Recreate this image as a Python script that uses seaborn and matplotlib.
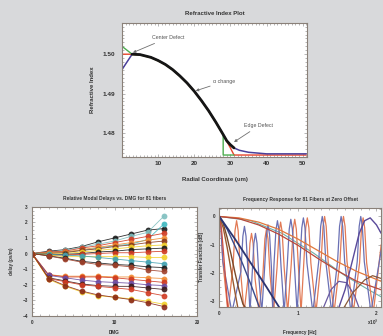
import matplotlib
matplotlib.use("Agg")
import matplotlib.pyplot as plt
import seaborn as sns
import pandas as pd
from matplotlib.ticker import MultipleLocator, FormatStrFormatter

sns.set_theme(style="ticks")
plt.rcParams['font.family'] = ['Liberation Sans', 'DejaVu Sans']

# ---- top: refractive index profile ----
r_main = [2.8, 5, 8, 10, 12, 14, 16, 18, 20, 22, 24, 26, 28]
n_main = [1.5000, 1.4999, 1.4992, 1.4984, 1.4974, 1.4961, 1.4945, 1.4927,
          1.4906, 1.4882, 1.4856, 1.4827, 1.4796]

# center region of each defect variant
r_center = [0]
n_red_center = [1.5000]
n_green_center = [1.5020]
n_blue_center = [1.4961]

# edge region of each defect variant
r_red_edge = [29, 30, 31, 51]
n_red_edge = [1.4779, 1.4762, 1.4744, 1.4744]
r_green_edge = [28, 31]
n_green_edge = [1.4744, 1.4744]
r_tail = [29, 30, 31, 32.5, 35, 37.5, 40, 45, 51]
n_tail = [1.4780, 1.4770, 1.4762, 1.4756, 1.4751, 1.4749, 1.4747, 1.4747, 1.4747]

# ---- bottom left: relative modal delays ----
dmg = [0, 2, 4, 6, 8, 10, 12, 14, 16]
fiber_delays = [
    [0, 0.15, 0.25, 0.45, 0.75, 1.0, 1.25, 1.5, 1.6],
    [0, 0.1, 0.2, 0.4, 0.6, 0.8, 1.1, 1.35, 2.4],
    [0, 0.05, 0.1, 0.2, 0.35, 0.5, 0.6, 0.9, 1.9],
    [0, 0.1, 0.15, 0.35, 0.5, 0.7, 0.9, 1.1, 1.3],
    [0, 0.05, 0.1, 0.25, 0.4, 0.55, 0.7, 0.85, 1.0],
    [0, 0.0, 0.05, 0.2, 0.3, 0.45, 0.55, 0.7, 0.8],
    [0, -0.05, 0.0, 0.1, 0.2, 0.3, 0.4, 0.5, 0.55],
    [0, -0.1, -0.05, 0.0, 0.1, 0.15, 0.25, 0.3, 0.35],
    [0, -0.1, -0.1, -0.05, 0.0, 0.05, 0.05, 0.1, 0.15],
    [0, -0.1, -0.2, -0.2, -0.2, -0.2, -0.2, -0.25, -0.25],
    [0, -0.05, -0.1, -0.15, -0.25, -0.35, -0.45, -0.55, -0.65],
    [0, -0.15, -0.3, -0.5, -0.6, -0.7, -0.75, -0.85, -0.9],
    [0, -0.15, -0.35, -0.55, -0.7, -0.75, -0.85, -1.05, -1.15],
    [0, -1.35, -1.45, -1.45, -1.45, -1.5, -1.5, -1.55, -1.6],
    [0, -1.35, -1.5, -1.5, -1.5, -1.55, -1.65, -1.75, -1.85],
    [0, -1.4, -1.55, -1.7, -1.8, -1.85, -1.9, -2.0, -2.05],
    [0, -1.55, -1.75, -1.95, -2.05, -2.1, -2.1, -2.2, -2.3],
    [0, -1.6, -1.8, -2.0, -2.1, -2.2, -2.3, -2.5, -2.7],
    [0, -1.65, -2.1, -2.45, -2.7, -2.8, -2.9, -3.05, -3.25],
    [0, -1.6, -2.05, -2.4, -2.65, -2.8, -2.95, -3.15, -3.4],
]
fiber_colors = ['#1a1a1a', '#7fbfbf', '#3fb8c0', '#d03a22', '#f08a30', '#8b3a1a',
                '#f2d02a', '#1a1a1a', '#d03a22', '#f2d02a', '#3fa0b0', '#1a1a1a',
                '#a0402a', '#f08a30', '#d03a22', '#6a4aa0', '#3a1a1a', '#d03a22',
                '#f2d02a', '#8b2a1a']

# ---- bottom right: frequency response ----
osc_orange = [(0, 0), (0.02, -0.35), (0.045, -1.6), (0.11, -3.4), (0.175, -1.75), (0.2, -0.5),
              (0.22, -0.15), (0.24, -0.5), (0.265, -1.75), (0.315, -3.4), (0.365, -2.2), (0.39, -0.95),
              (0.41, -0.6), (0.43, -0.95), (0.455, -2.2), (0.505, -3.4), (0.555, -2.05), (0.58, -0.8),
              (0.6, -0.45), (0.62, -0.8), (0.645, -2.05), (0.69, -3.4), (0.735, -1.8), (0.76, -0.55),
              (0.78, -0.2), (0.8, -0.55), (0.825, -1.8), (0.87, -3.4), (0.915, -1.7), (0.94, -0.45),
              (0.96, -0.1), (0.98, -0.45), (1.005, -1.7), (1.04, -3.4), (1.075, -1.65), (1.1, -0.4),
              (1.12, -0.05), (1.14, -0.4), (1.165, -1.65), (1.23, -3.4), (1.295, -1.6), (1.32, -0.35),
              (1.34, 0), (1.36, -0.35), (1.385, -1.6), (1.46, -3.4), (1.535, -1.6), (1.56, -0.35),
              (1.58, 0), (1.6, -0.35), (1.625, -1.6), (1.705, -3.4), (1.785, -1.65), (1.81, -0.4),
              (1.83, -0.05), (1.85, -0.4), (1.875, -1.65), (1.96, -3.4), (2.06, -1.0)]
osc_blue = [(0, 0), (0.02, -0.35), (0.045, -1.6), (0.16, -3.4), (0.275, -1.95), (0.3, -0.7),
            (0.32, -0.35), (0.34, -0.7), (0.365, -1.95), (0.39, -3.4), (0.415, -2.2), (0.44, -0.95),
            (0.46, -0.6), (0.48, -0.95), (0.505, -2.2), (0.54, -3.4), (0.575, -1.9), (0.6, -0.65),
            (0.62, -0.3), (0.64, -0.65), (0.665, -1.9), (0.68, -3.4), (0.695, -1.75), (0.72, -0.5),
            (0.74, -0.15), (0.76, -0.5), (0.785, -1.75), (0.825, -3.4), (0.865, -1.7), (0.89, -0.45),
            (0.91, -0.1), (0.93, -0.45), (0.955, -1.7), (0.99, -3.4), (1.025, -1.65), (1.05, -0.4),
            (1.07, -0.05), (1.09, -0.4), (1.115, -1.65), (1.19, -3.4), (1.265, -1.6), (1.29, -0.35),
            (1.31, 0), (1.33, -0.35), (1.355, -1.6), (1.43, -3.4), (1.505, -1.6), (1.53, -0.35),
            (1.55, 0), (1.57, -0.35), (1.595, -1.6), (1.675, -3.4), (1.755, -1.6), (1.78, -0.35),
            (1.8, 0), (1.82, -0.35), (1.845, -1.6), (1.93, -3.4), (2.06, -1.2)]
slow_orange = [(0, 0), (0.25, -0.05), (0.5, -0.2), (0.75, -0.45), (1.0, -0.8), (1.25, -1.2),
               (1.5, -1.6), (1.75, -1.95), (2.06, -2.3)]
slow_red = [(0, 0), (0.25, -0.08), (0.5, -0.3), (0.75, -0.62), (1.0, -1.02), (1.25, -1.48),
            (1.5, -1.92), (1.75, -2.3), (2.06, -2.6)]
slow_teal = [(0, 0), (0.4, -0.15), (0.8, -0.6), (1.2, -1.3), (1.6, -2.1), (1.9, -2.6), (2.06, -2.85)]
steep_navy = [(0, 0), (0.2, -0.8), (0.4, -1.65), (0.6, -2.5), (0.78, -3.3)]
steep_navy2 = [(0, 0), (0.1, -0.45), (0.2, -1.05), (0.3, -1.7), (0.4, -2.4), (0.52, -3.3)]
steep_brown = [(0, 0), (0.05, -0.25), (0.1, -0.75), (0.15, -1.35), (0.2, -2.0), (0.25, -2.6),
               (0.3, -3.1), (0.35, -3.3)]
steep_brown2 = [(0, 0), (0.05, -0.4), (0.1, -1.1), (0.15, -1.9), (0.2, -2.7), (0.24, -3.3)]
steep_red = [(0, 0), (0.03, -0.5), (0.06, -1.5), (0.09, -2.6), (0.11, -3.3)]
arc_purple = [(1.5, -3.4), (1.6, -2.6), (1.7, -1.5), (1.78, -0.6), (1.85, -0.15), (1.92, -0.05),
              (2.0, -0.3), (2.06, -0.6)]
arc_brown = [(1.55, -3.4), (1.7, -2.7), (1.85, -2.25), (1.95, -2.1), (2.06, -2.2)]
hump_purple = [(1.3, -3.4), (1.42, -2.6), (1.52, -2.3), (1.62, -2.35), (1.72, -2.8), (1.8, -3.4)]

response_curves = [
    (slow_teal, '#6fb0a8', 0.8), (osc_orange, '#e27a55', 0.9), (osc_blue, '#6a70b4', 0.9),
    (slow_orange, '#e0783c', 0.9), (slow_red, '#b8483a', 0.9), (steep_red, '#d05040', 0.9),
    (steep_brown, '#7a4a2a', 1.0), (steep_brown2, '#9a5a30', 1.0), (steep_navy2, '#3a4a8a', 1.0),
    (steep_navy, '#2c3470', 1.3), (hump_purple, '#6a5aa0', 0.9), (arc_brown, '#8a5a3a', 0.9),
    (arc_purple, '#5a4a9a', 1.0),
]

bg = '#d8d9db'
spine_col = '#8a8078'
fig = plt.figure(figsize=(3.83, 3.36), dpi=100, facecolor=bg)


def style_axes(ax, fs, bold=True):
    ax.set_facecolor('white')
    for s in ax.spines.values():
        s.set_color(spine_col)
        s.set_linewidth(0.8)
    ax.tick_params(which='both', direction='in', top=True, right=True, color='#999999',
                   labelsize=fs, pad=3, width=0.5)
    ax.tick_params(which='major', length=2.5)
    ax.tick_params(which='minor', length=1.2)
    for lab in ax.get_xticklabels() + ax.get_yticklabels():
        lab.set_fontweight('bold' if bold else 'normal')
        lab.set_color('#333333')


def draw(ax, xs, ys, color, lw):
    sns.lineplot(x=xs, y=ys, ax=ax, color=color, lw=lw, estimator=None, sort=False, legend=False)


# top panel
ax1 = fig.add_axes([122 / 383, 1 - 157 / 336, 185 / 383, 134.3 / 336])
draw(ax1, r_center + r_main + r_red_edge, n_red_center + n_main + n_red_edge, '#e8452c', 1.0)
draw(ax1, r_center + r_main + r_green_edge, n_green_center + n_main + n_green_edge, '#4cae4f', 1.0)
draw(ax1, r_main, [v - 0.0001 for v in n_main], '#e8d040', 1.0)
draw(ax1, r_center + r_main + r_tail, n_blue_center + n_main + n_tail, '#4a3f9a', 1.1)
draw(ax1, r_main + r_tail[:3], n_main + n_tail[:3], '#151515', 2.0)
ax1.set_xlim(0, 51.2)
ax1.set_ylim(1.4739, 1.5080)
ax1.set_xticks([10, 20, 30, 40, 50])
ax1.set_yticks([1.48, 1.49, 1.50])
ax1.yaxis.set_major_formatter(FormatStrFormatter('%.2f'))
ax1.xaxis.set_minor_locator(MultipleLocator(1))
ax1.yaxis.set_minor_locator(MultipleLocator(0.001))
style_axes(ax1, 4.6)
ax1.tick_params(axis='y', pad=5)
ax1.set_xlabel('')
ax1.set_ylabel('')
ax1.text(0.5, 1.072, 'Refractive Index Plot', transform=ax1.transAxes, ha='center', va='center',
         fontsize=4.3, fontweight='bold', color='#333333')
ax1.text(0.5, -0.164, 'Radial Coordinate (um)', transform=ax1.transAxes, ha='center', va='center',
         fontsize=4.3, fontweight='bold', color='#333333')
ax1.text(-0.162, 0.5, 'Refractive Index', transform=ax1.transAxes, ha='center', va='center',
         rotation=90, fontsize=4.3, fontweight='bold', color='#333333')
arrow = dict(arrowstyle='-|>', color='#707070', lw=0.6, mutation_scale=4, shrinkA=0, shrinkB=0)
ax1.annotate('Center Defect', xy=(3.0, 1.5004), xytext=(8.3, 1.5042), fontsize=3.8,
             color='#555555', va='center', arrowprops=arrow)
ax1.annotate('α change', xy=(20.4, 1.4907), xytext=(25.3, 1.4931), fontsize=3.8,
             color='#555555', va='center', arrowprops=arrow)
ax1.annotate('Edge Defect', xy=(31.0, 1.4777), xytext=(33.8, 1.4818), fontsize=3.8,
             color='#555555', va='center', arrowprops=arrow)

# bottom left panel
ax2 = fig.add_axes([32 / 383, 20 / 336, 165 / 383, 109.3 / 336])
rows = []
for i, series in enumerate(fiber_delays):
    for d, v in zip(dmg, series):
        rows.append({'fiber': i, 'dmg': d, 'delay': v})
delay_df = pd.DataFrame(rows)
sns.lineplot(data=delay_df, x='dmg', y='delay', hue='fiber', palette=fiber_colors, ax=ax2,
             marker='o', markersize=4.2, markeredgewidth=0, lw=0.6, alpha=0.9,
             estimator=None, legend=False)
ax2.set_xlim(0, 20)
ax2.set_ylim(-4, 3)
ax2.set_xticks([0, 10, 20])
ax2.set_yticks([-4, -3, -2, -1, 0, 1, 2, 3])
ax2.xaxis.set_minor_locator(MultipleLocator(1))
ax2.yaxis.set_minor_locator(MultipleLocator(0.25))
style_axes(ax2, 3.4)
ax2.set_xlabel('')
ax2.set_ylabel('')
ax2.text(0.5, 1.077, 'Relative Modal Delays vs. DMG for 81 fibers', transform=ax2.transAxes,
         ha='center', va='center', fontsize=3.5, fontweight='bold', color='#333333')
ax2.text(0.5, -0.153, 'DMG', transform=ax2.transAxes, ha='center', va='center',
         fontsize=3.3, fontweight='bold', color='#333333')
ax2.text(-0.123, 0.5, 'delay (ps/m)', transform=ax2.transAxes, ha='center', va='center',
         rotation=90, fontsize=3.3, fontweight='bold', color='#333333')

# bottom right panel
ax3 = fig.add_axes([219.3 / 383, 29.3 / 336, 161.5 / 383, 98.7 / 336])
for pts, col, lw in response_curves:
    draw(ax3, [p[0] for p in pts], [p[1] for p in pts], col, lw)
ax3.set_xlim(0, 2.055)
ax3.set_ylim(-3.2, 0.3)
ax3.set_xticks([0, 1, 2])
ax3.set_yticks([0, -1, -2, -3])
ax3.xaxis.set_minor_locator(MultipleLocator(0.1))
ax3.yaxis.set_minor_locator(MultipleLocator(0.25))
style_axes(ax3, 3.4)
ax3.set_xlabel('')
ax3.set_ylabel('')
ax3.text(0.5, 1.091, 'Frequency Response for 81 Fibers at Zero Offset', transform=ax3.transAxes,
         ha='center', va='center', fontsize=3.5, fontweight='bold', color='#333333')
ax3.text(0.5, -0.266, 'Frequency [Hz]', transform=ax3.transAxes, ha='center', va='center',
         fontsize=3.3, fontweight='bold', color='#333333')
ax3.text(-0.11, 0.5, 'Transfer Function [dB]', transform=ax3.transAxes, ha='center', va='center',
         rotation=90, fontsize=3.3, fontweight='bold', color='#333333')
ax3.text(0.985, -0.155, 'x10$^9$', transform=ax3.transAxes, ha='right', va='center',
         fontsize=3.3, fontweight='bold', color='#333333')

fig.savefig('out.png', dpi=100, facecolor=bg)
